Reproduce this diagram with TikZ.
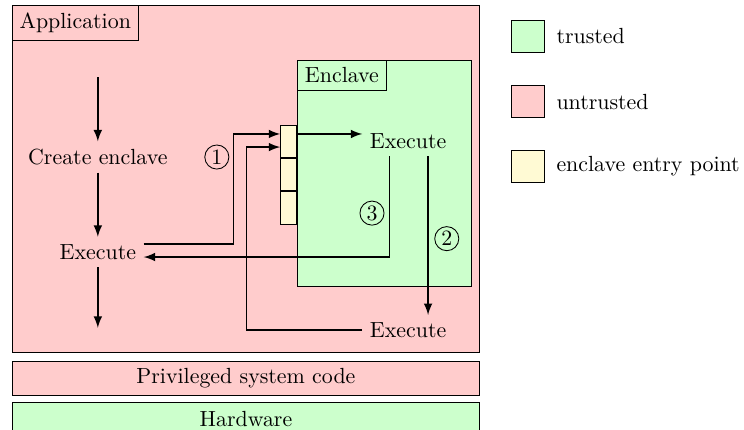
\documentclass[tikz,border=0pt]{standalone}
\usepackage{amsmath}
\usepackage{tikz}
\usetikzlibrary{positioning}

\definecolor{trustedgreen}{RGB}{204,255,204}
\definecolor{untrustedred}{RGB}{255,204,204}
\definecolor{entryyellow}{RGB}{255,250,212}

\begin{document}
\begin{tikzpicture}[>=latex,auto]
  \tikzstyle{area}=[draw, anchor=north west, inner sep=0pt]
  \tikzstyle{tag}=[draw, anchor=north west]
  \tikzstyle{entry}=[draw, fill=entryyellow, minimum width=0.26cm, minimum height=0.52cm, inner sep=0pt]
  \tikzstyle{flow}=[->, thick]
  \tikzstyle{num}=[circle, draw, inner sep=0pt, minimum size=11pt]
  \tikzstyle{key}=[draw, minimum size=0.52cm, inner sep=0pt]

    \useasboundingbox (0,0) rectangle (11.94,-6.9);

    % layers
    \node[area,fill=untrustedred,minimum width=7.5cm,minimum height=5.57cm] (app) at (0.19,-0.08) {};
    \node[tag] (applabel) at (app.north west) {Application};
    \node[area,fill=untrustedred,minimum width=7.5cm,minimum height=0.55cm] (priv) at (0.19,-5.79) {Privileged system code};
    \node[area,fill=trustedgreen,minimum width=7.5cm,minimum height=0.52cm] (hw) at (0.19,-6.45) {Hardware};

    % enclave
    \node[area,fill=trustedgreen,minimum width=2.79cm,minimum height=3.63cm] (encl) at (4.77,-0.96) {};
    \node[tag] (encllabel) at (encl.north west) {Enclave};
    \node[entry,anchor=north east] (ep1) at (4.77,-2.0) {};
    \node[entry]           (ep2)  [below=0pt of ep1]   {};
    \node[entry]           (ep3)  [below=0pt of ep2]   {};

    % steps
    \coordinate (start)  at (1.57,-1.24);
    \coordinate (finish) at (1.57,-5.26);
    \node (create)  at (1.57,-2.52) {Create enclave};
    \node (appexec) at (1.57,-4.045) {Execute};
    \node (encexec) at (6.55,-2.26) {Execute};
    \node (retexec) at (6.55,-5.30) {Execute};
    \coordinate (in1) at ([yshift=-1.5mm]ep1.north west);
    \coordinate (in2) at ([yshift=-3.6mm]ep1.north west);

    \draw[flow] (start) -- (create);
    \draw[flow] (create) -- (appexec);
    \draw[flow] (appexec) -- (finish);
    \draw[flow] ([yshift=1.3mm]appexec.east) -| ([xshift=-7.5mm]in1) -- (in1);
    \draw[flow] (in1 -| ep1.east) -- (encexec.west |- in1);
    \draw[flow] ([xshift=-3mm]encexec.south) |- ([yshift=-0.8mm]appexec.east);
    \draw[flow] ([xshift=3.2mm]encexec.south) -- ([xshift=3.2mm]retexec.north);
    \draw[flow] (retexec.west) -| ([xshift=-5.4mm]in2) -- (in2);

    \node[num] (n1) at (3.48,-2.52) {1};
    \node[num] (n3) at (5.97,-3.42) {3};
    \node[num] (n2) at (7.17,-3.83) {2};

    % legend
    \node[key,fill=trustedgreen] (ktrusted)   at (8.47,-0.586) {};
    \node[key,fill=untrustedred] (kuntrusted) [below=0.51cm of ktrusted]   {};
    \node[key,fill=entryyellow]  (kentry)     [below=0.51cm of kuntrusted] {};
    \node (ltrusted)   [right=0.7mm of ktrusted]   {trusted};
    \node (luntrusted) [right=0.7mm of kuntrusted] {untrusted};
    \node (lentry)     [right=0.7mm of kentry]     {enclave entry point};

\end{tikzpicture}
\end{document}
